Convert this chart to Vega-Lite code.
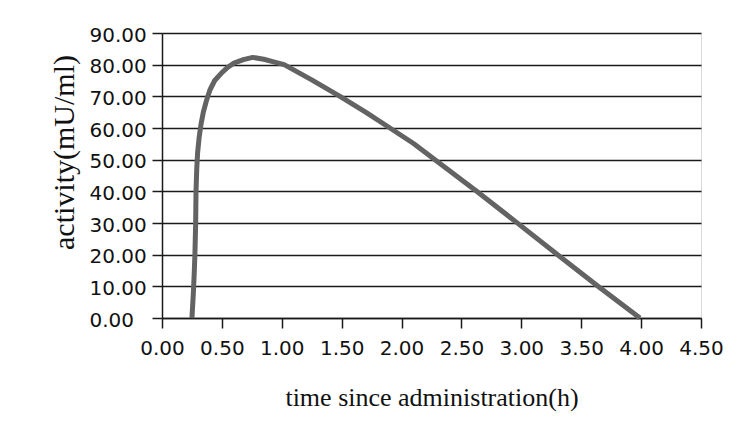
{
  "$schema": "https://vega.github.io/schema/vega-lite/v6.json",
  "autosize": "none",
  "width": 539,
  "height": 285,
  "padding": {"left": 162, "top": 33, "right": 48, "bottom": 111},
  "background": "white",
  "config": {
    "view": {"stroke": "#d9d9d9", "strokeWidth": 1},
    "axis": {
      "labelFont": "DejaVu Sans",
      "labelFontSize": 20,
      "labelColor": "#111111",
      "titleFont": "Liberation Serif",
      "titleFontWeight": "normal",
      "titleColor": "#111111",
      "domainColor": "#1a1a1a",
      "domainWidth": 1.5,
      "tickColor": "#1a1a1a",
      "tickWidth": 1.5,
      "tickSize": 10
    }
  },
  "data": {
    "values": [
      {"t": 0.25, "a": 0},
      {"t": 0.262, "a": 8},
      {"t": 0.27, "a": 15},
      {"t": 0.275, "a": 20.4},
      {"t": 0.281, "a": 30},
      {"t": 0.284, "a": 40},
      {"t": 0.29, "a": 47},
      {"t": 0.297, "a": 52},
      {"t": 0.31, "a": 57},
      {"t": 0.325, "a": 61},
      {"t": 0.345, "a": 65},
      {"t": 0.37, "a": 68.5},
      {"t": 0.4, "a": 72},
      {"t": 0.44, "a": 75},
      {"t": 0.5, "a": 77.5},
      {"t": 0.55, "a": 79.2},
      {"t": 0.6, "a": 80.5},
      {"t": 0.68, "a": 81.6},
      {"t": 0.757, "a": 82.3},
      {"t": 0.85, "a": 81.7},
      {"t": 0.94, "a": 80.8},
      {"t": 1.02, "a": 80},
      {"t": 1.25, "a": 75.2},
      {"t": 1.486, "a": 70},
      {"t": 1.7, "a": 65},
      {"t": 1.903, "a": 60},
      {"t": 2.1, "a": 55.1},
      {"t": 2.279, "a": 50},
      {"t": 2.45, "a": 45.1},
      {"t": 2.627, "a": 40},
      {"t": 2.96, "a": 30.2},
      {"t": 3.295, "a": 20.2},
      {"t": 3.64, "a": 10},
      {"t": 3.99, "a": 0}
    ]
  },
  "mark": {"type": "line", "color": "#636363", "strokeWidth": 5, "strokeJoin": "round"},
  "encoding": {
    "x": {
      "field": "t",
      "type": "quantitative",
      "scale": {"domain": [0, 4.5], "nice": false, "zero": false},
      "axis": {
        "title": "time since administration(h)",
        "titleFontSize": 26,
        "titleBaseline": "alphabetic",
        "titleY": 87,
        "values": [0, 0.5, 1, 1.5, 2, 2.5, 3, 3.5, 4, 4.5],
        "format": ".2f",
        "grid": false,
        "labelPadding": 10,
        "labelFlush": false,
        "labelOverlap": false
      }
    },
    "y": {
      "field": "a",
      "type": "quantitative",
      "scale": {"domain": [0, 90], "nice": false},
      "axis": {
        "title": "activity(mU/ml)",
        "titleFontSize": 30,
        "titleBaseline": "alphabetic",
        "titleAngle": -90,
        "titleX": -89,
        "titleY": 119,
        "values": [0, 10, 20, 30, 40, 50, 60, 70, 80, 90],
        "format": ".2f",
        "grid": true,
        "gridColor": "#1a1a1a",
        "gridWidth": 1.5,
        "gridOpacity": 1,
        "labelAlign": "left",
        "labelPadding": 63,
        "labelBaseline": "middle",
        "labelOffset": 2,
        "labelOverlap": false
      }
    }
  }
}
